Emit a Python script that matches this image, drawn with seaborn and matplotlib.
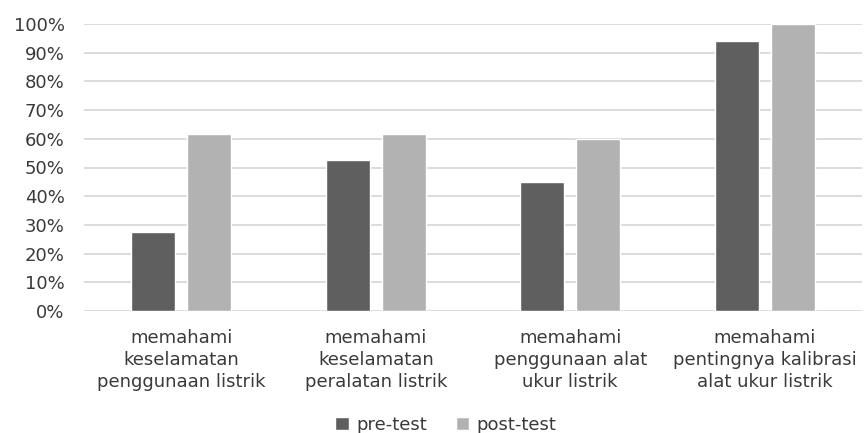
import numpy as np
import pandas as pd
import matplotlib
matplotlib.use('Agg')
import matplotlib.pyplot as plt
import seaborn as sns
from matplotlib.ticker import PercentFormatter

categories = ['memahami\nkeselamatan\npenggunaan listrik',
              'memahami\nkeselamatan\nperalatan listrik',
              'memahami\npenggunaan alat\nukur listrik',
              'memahami\npentingnya kalibrasi\nalat ukur listrik']
pre_test = [0.275, 0.525, 0.45, 0.94]
post_test = [0.615, 0.615, 0.60, 1.00]
series = ['pre-test', 'post-test']

df = pd.DataFrame({
    'kategori': categories * 2,
    'nilai': pre_test + post_test,
    'tes': [series[0]] * 4 + [series[1]] * 4,
})

sns.set_theme(style='white')
plt.rcParams['font.family'] = ['DejaVu Sans']

fig = plt.figure(figsize=(8.66, 4.33), dpi=100)
ax = fig.add_axes([84 / 866, 1 - 311 / 433, 778 / 866, 287 / 433])

sns.barplot(data=df, x='kategori', y='nilai', hue='tes',
            palette=['#5f5f5f', '#b2b2b2'], width=0.58, gap=0.22,
            ax=ax, legend=True)

ax.set_ylim(0, 1)
ax.set_yticks(np.arange(0, 1.01, 0.1))
ax.yaxis.set_major_formatter(PercentFormatter(1.0, decimals=0))
ax.grid(axis='y', color='#d9d9d9', linewidth=1.3)
ax.set_axisbelow(True)
for s in ax.spines.values():
    s.set_visible(False)
ax.set_xlabel('')
ax.set_ylabel('')
ax.tick_params(axis='both', length=0, labelsize=13, colors='#3a3a3a')
ax.tick_params(axis='y', pad=14)
ax.tick_params(axis='x', pad=13)
for lbl in ax.get_xticklabels():
    lbl.set_linespacing(1.3)

handles, labels = ax.get_legend_handles_labels()
ax.legend(handles, labels, loc='center', bbox_to_anchor=(446 / 866, 1 - 425 / 433),
          bbox_transform=fig.transFigure, ncol=2, frameon=False,
          handlelength=0.75, handleheight=0.75, handletextpad=0.4,
          columnspacing=1.6, fontsize=13, labelcolor='#3a3a3a')

fig.savefig('out.png', dpi=100)
